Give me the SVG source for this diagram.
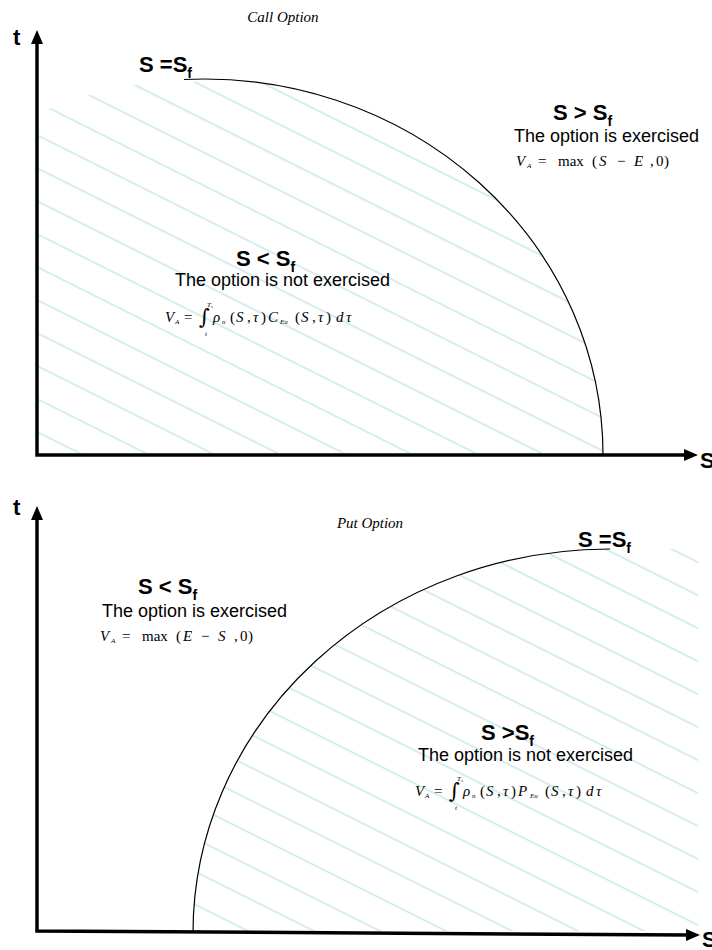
<svg xmlns="http://www.w3.org/2000/svg" width="712" height="950" viewBox="0 0 712 950">
<style>
.lbl{font-family:"Liberation Sans",Arial,sans-serif;font-weight:bold;font-size:22px;fill:#000}
.sub{font-size:14px}
.txt{font-family:"Liberation Sans",Arial,sans-serif;font-size:18px;fill:#000}
.ttl{font-family:"Liberation Serif","Times New Roman",serif;font-style:italic;font-size:15px;fill:#000}
.f{font-family:"Liberation Serif","Times New Roman",serif;font-size:15px;fill:#000}
.fi{font-style:italic}
.fs{font-size:7px;font-style:italic}
.fss{font-size:5px;font-style:italic}
.int{font-family:"DejaVu Serif",serif;font-size:21px;font-style:normal}
.axis{fill:none;stroke:#000;stroke-width:3.5;marker-start:url(#ah);marker-end:url(#ah)}
.curve{fill:none;stroke:#000;stroke-width:1.2}
.hl{stroke:#a9dbe0;stroke-width:1}
</style>
<defs>
<marker id="ah" markerUnits="userSpaceOnUse" markerWidth="14" markerHeight="12" refX="3" refY="6" orient="auto-start-reverse">
<path d="M0,0 L14,6 L0,12 Z" fill="#000"/>
</marker>
<pattern id="hatchTop" patternUnits="userSpaceOnUse" width="200" height="29.5" patternTransform="rotate(26.565)">
<line class="hl" x1="0" y1="15.67" x2="200" y2="15.67"/>
</pattern>
<pattern id="hatchBot" patternUnits="userSpaceOnUse" width="200" height="29.5" patternTransform="rotate(26.565)">
<line class="hl" x1="0" y1="13.8" x2="200" y2="13.8"/>
</pattern>
<clipPath id="clipTopEll"><ellipse cx="204" cy="455" rx="399" ry="376"/></clipPath>
<clipPath id="clipBot"><ellipse cx="610" cy="933" rx="417" ry="384"/><rect x="610" y="549" width="88" height="384"/></clipPath>
</defs>

<g id="hatching">
<g clip-path="url(#clipTopEll)"><rect x="39" y="82" width="570" height="371" fill="url(#hatchTop)"/></g>
<rect x="190" y="549" width="508" height="382" fill="url(#hatchBot)" clip-path="url(#clipBot)"/>
</g>

<g id="connectors">
<path id="axes-call" class="axis" d="M37,41 V455 H687"/>
<path id="axes-put" class="axis" d="M37,517 V931 L689,935"/>
<path id="boundary-call" class="curve" d="M184,79.5 A399,376 0 0 1 603,455"/>
<path id="boundary-put" class="curve" d="M193,933 A417,384 0 0 1 610,549"/>
</g>

<g id="call-option">
<text class="ttl" x="283" y="22" text-anchor="middle">Call Option</text>
<text class="lbl" x="13" y="45" font-size="19">t</text>
<text class="lbl" x="700" y="468" font-size="19">S</text>
<g id="call-boundary-label"><text class="lbl" x="139" y="72">S =S<tspan class="sub" dy="6">f</tspan></text></g>
<g id="call-exercised">
<text class="lbl" x="553" y="120">S &gt; S<tspan class="sub" dy="6">f</tspan></text>
<text class="txt" x="514" y="142">The option is exercised</text>
<text class="f" y="166"><tspan class="fi" x="516">V</tspan><tspan class="fs" x="527" dy="2">A</tspan><tspan x="538" dy="-2">=</tspan><tspan x="558">max</tspan><tspan x="592">(</tspan><tspan class="fi" x="599">S</tspan><tspan x="617">−</tspan><tspan class="fi" x="634">E</tspan><tspan x="650">,</tspan><tspan x="656">0</tspan><tspan x="664">)</tspan></text>
</g>
<g id="call-not-exercised">
<text class="lbl" x="236" y="266">S &lt; S<tspan class="sub" dy="6">f</tspan></text>
<text class="txt" x="175" y="286">The option is not exercised</text>
<text class="f" y="322"><tspan class="fi" x="165">V</tspan><tspan class="fs" x="175" dy="2">A</tspan><tspan x="184" dy="-2">=</tspan><tspan class="int" x="199" dy="2">∫</tspan><tspan class="fs" x="207" dy="-17">T</tspan><tspan class="fss" dy="1">s</tspan><tspan class="fs" x="205" dy="28">t</tspan><tspan class="fi" x="213" dy="-14">ρ</tspan><tspan class="fs" x="222" dy="2">n</tspan><tspan x="230" dy="-2">(</tspan><tspan class="fi" x="236">S</tspan><tspan x="247">,</tspan><tspan class="fi" x="253">τ</tspan><tspan x="261">)</tspan><tspan class="fi" x="268">C</tspan><tspan class="fs" x="280" dy="2">Eu</tspan><tspan x="295" dy="-2">(</tspan><tspan class="fi" x="301">S</tspan><tspan x="312">,</tspan><tspan class="fi" x="318">τ</tspan><tspan x="326">)</tspan><tspan class="fi" x="336">d</tspan><tspan class="fi" x="346">τ</tspan></text>
</g>
</g>

<g id="put-option">
<text class="ttl" x="370" y="528" text-anchor="middle">Put Option</text>
<text class="lbl" x="13" y="515" font-size="19">t</text>
<text class="lbl" x="702" y="947" font-size="19">S</text>
<g id="put-boundary-label"><text class="lbl" x="578" y="547">S =S<tspan class="sub" dy="6">f</tspan></text></g>
<g id="put-exercised">
<text class="lbl" x="138" y="594">S &lt; S<tspan class="sub" dy="6">f</tspan></text>
<text class="txt" x="102" y="617">The option is exercised</text>
<text class="f" y="641"><tspan class="fi" x="100">V</tspan><tspan class="fs" x="111" dy="2">A</tspan><tspan x="122" dy="-2">=</tspan><tspan x="142">max</tspan><tspan x="176">(</tspan><tspan class="fi" x="183">E</tspan><tspan x="201">−</tspan><tspan class="fi" x="218">S</tspan><tspan x="234">,</tspan><tspan x="240">0</tspan><tspan x="248">)</tspan></text>
</g>
<g id="put-not-exercised">
<text class="lbl" x="481" y="740">S &gt;S<tspan class="sub" dy="6">f</tspan></text>
<text class="txt" x="418" y="761">The option is not exercised</text>
<text class="f" y="796"><tspan class="fi" x="415">V</tspan><tspan class="fs" x="425" dy="2">A</tspan><tspan x="434" dy="-2">=</tspan><tspan class="int" x="449" dy="2">∫</tspan><tspan class="fs" x="457" dy="-17">T</tspan><tspan class="fss" dy="1">s</tspan><tspan class="fs" x="455" dy="28">t</tspan><tspan class="fi" x="463" dy="-14">ρ</tspan><tspan class="fs" x="472" dy="2">n</tspan><tspan x="480" dy="-2">(</tspan><tspan class="fi" x="486">S</tspan><tspan x="497">,</tspan><tspan class="fi" x="503">τ</tspan><tspan x="511">)</tspan><tspan class="fi" x="518">P</tspan><tspan class="fs" x="530" dy="2">Eu</tspan><tspan x="545" dy="-2">(</tspan><tspan class="fi" x="551">S</tspan><tspan x="562">,</tspan><tspan class="fi" x="568">τ</tspan><tspan x="576">)</tspan><tspan class="fi" x="586">d</tspan><tspan class="fi" x="596">τ</tspan></text>
</g>
</g>
</svg>
